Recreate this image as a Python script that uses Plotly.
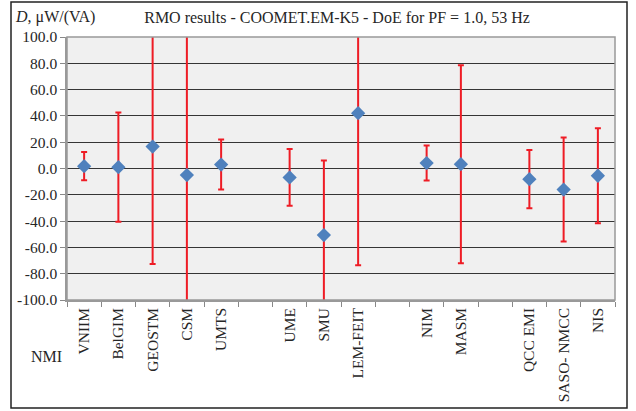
import plotly.graph_objects as go

categories = ["VNIIM", "BelGIM", "GEOSTM", "CSM", "UMTS", " ", "UME", "SMU",
              "LEM-FEIT", "  ", "NIM", "MASM", "   ", "QCC EMI", "SASO- NMCC", "NIS"]
nmi = ["VNIIM", "BelGIM", "GEOSTM", "CSM", "UMTS", "UME", "SMU", "LEM-FEIT",
       "NIM", "MASM", "QCC EMI", "SASO- NMCC", "NIS"]
doe = [1.8, 1.0, 16.7, -5.0, 3.0, -6.8, -50.6, 42.1, 4.1, 3.3, -8.1, -16.0, -5.5]
unc = [10.7, 41.5, 89.4, 130.0, 19.0, 21.6, 56.7, 115.6, 13.3, 75.3, 22.1, 39.6, 36.2]
yticks = [-100, -80, -60, -40, -20, 0, 20, 40, 60, 80, 100]
ytick_labels = ["-100.0", "-80.0", "-60.0", "-40.0", "-20.0", "0.0",
                "20.0", "40.0", "60.0", "80.0", "100.0"]

FONT = "Liberation Serif, Times New Roman, serif"
TXT = "#262626"
FS = 15.5

fig = go.Figure()
fig.add_trace(go.Scatter(
    x=nmi, y=doe, mode="markers",
    marker=dict(symbol="diamond", size=11, color="#4f81bd"),
    error_y=dict(type="data", array=unc, visible=True, color="#ee1c25",
                 thickness=2, width=3),
    cliponaxis=True, showlegend=False, hoverinfo="skip",
))

fig.update_layout(
    width=636, height=411,
    margin=dict(l=67, r=21, t=37, b=111, autoexpand=False),
    paper_bgcolor="white", plot_bgcolor="#f0f0f0",
    font=dict(family=FONT, size=FS, color=TXT),
    title=dict(text="RMO results - COOMET.EM-K5 - DoE for PF = 1.0, 53 Hz",
               x=(337 - 67) / 548, xref="paper", y=1 - 17 / 411, yref="container",
               xanchor="center", yanchor="middle",
               font=dict(family=FONT, size=16, color=TXT)),
    xaxis=dict(type="category", categoryorder="array", categoryarray=categories,
               range=[-0.5, 15.5], tickangle=-90, tickson="boundaries",
               ticks="outside", ticklen=5, tickcolor="#888", automargin=False,
               showline=True, linecolor="#999", linewidth=1.5, mirror=False,
               showgrid=False, tickfont=dict(family=FONT, size=FS, color=TXT)),
    yaxis=dict(range=[-100, 100], tickvals=yticks, ticktext=ytick_labels,
               ticks="outside", ticklen=5, tickcolor="#888", automargin=False,
               showline=True, linecolor="#999", linewidth=1.5,
               showgrid=True, gridcolor="#353535", gridwidth=1, zeroline=False,
               tickfont=dict(family=FONT, size=FS, color=TXT)),
)

# plot-area top/right border
fig.add_shape(type="rect", xref="paper", yref="paper", x0=0, x1=1, y0=0, y1=1,
              line=dict(color="#999", width=1.5), layer="above")
# outer chart border
fig.add_shape(type="rect", xref="paper", yref="paper",
              x0=(11 - 67) / 548, x1=(627 - 67) / 548,
              y0=(300 - 408) / 263, y1=(300 - 2) / 263,
              line=dict(color="#222", width=1.5))

fig.add_annotation(text="<i>D</i>, μW/(VA)", xref="paper", yref="paper",
                   x=(13 - 67) / 548, y=(300 - 17) / 263, xanchor="left",
                   yanchor="middle", showarrow=False,
                   font=dict(family=FONT, size=16, color=TXT))
fig.add_annotation(text="NMI", xref="paper", yref="paper",
                   x=(46 - 67) / 548, y=(300 - 356) / 263, xanchor="center",
                   yanchor="middle", showarrow=False,
                   font=dict(family=FONT, size=16, color=TXT))

fig.write_html("out.html", config={"displayModeBar": False},
               post_script="document.body.style.margin='0';document.body.style.overflow='hidden';")
